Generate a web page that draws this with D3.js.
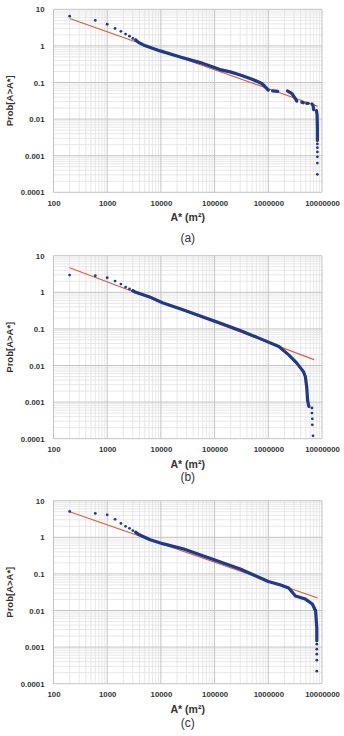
<!DOCTYPE html>
<html>
<head>
<meta charset="utf-8">
<script src="https://cdnjs.cloudflare.com/ajax/libs/d3/7.8.5/d3.min.js"></script>
<style>
	body { margin: 0; background: #fff; }
	svg { display: block; }
</style>
</head>
<body>
<div id="chart"></div>
<script>
// axis values
const xTicks = [100, 1000, 10000, 100000, 1000000, 10000000];
const yTicks = [0.0001, 0.001, 0.01, 0.1, 1, 10];
const yTickLabels = ['0.0001', '0.001', '0.01', '0.1', '1', '10'];
const xTitle = 'A* (m²)';
const yTitle = 'Prob[A>A*]';
const captions = ['(a)', '(b)', '(c)'];

// panel (a)
const aDots = [[200, 6.5], [600, 5.0], [1000, 3.9], [1400, 3.0], [1800, 2.5], [2200, 2.1], [2600, 1.84], [3000, 1.6], [3400, 1.45]];
const aCurve = [
	[[3400, 1.45], [3830, 1.25], [5000, 1.02], [9700, 0.73], [22900, 0.5], [53900, 0.35], [126000, 0.225], [195000, 0.195], [300000, 0.16], [459000, 0.129], [600000, 0.11], [755000, 0.094], [850000, 0.08], [1000000, 0.062]],
	[[1200000, 0.059], [1500000, 0.057]],
	[[2270000, 0.059], [2760000, 0.05], [3160000, 0.037], [3400000, 0.031]],
	[[4200000, 0.029], [4500000, 0.028]],
	[[5200000, 0.027], [5500000, 0.027]],
	[[6500000, 0.026], [6800000, 0.024], [7000000, 0.018]],
	[[7900000, 0.017], [8100000, 0.013], [8200000, 0.006], [8200000, 0.0026]]
];
const aTail = [[8200000, 0.0021], [8200000, 0.00166], [8200000, 0.00127], [8200000, 0.00093], [8200000, 0.00063], [8200000, 0.00031]];
const aTrend = [[200, 5.6], [8300000, 0.0225]];

// panel (b)
const bDots = [[200, 2.96], [600, 2.83], [1000, 2.5], [1400, 2.03], [1800, 1.68], [2200, 1.39], [2600, 1.23], [3000, 1.1]];
const bCurve = [
	[[3000, 1.1], [3400, 1.0], [6000, 0.76], [10700, 0.52], [25000, 0.34], [51000, 0.232], [115000, 0.152], [283000, 0.094], [670000, 0.056], [1570000, 0.033], [2400000, 0.0195], [3400000, 0.0116], [4500000, 0.0068], [4900000, 0.005], [5200000, 0.0025], [5400000, 0.0011], [5700000, 0.00076]]
];
const bTail = [[6500000, 0.00069], [6500000, 0.0005], [6600000, 0.00035], [6600000, 0.00024], [6800000, 0.00012]];
const bTrend = [[200, 4.7], [7100000, 0.0145]];

// panel (c)
const cDots = [[200, 5.1], [600, 4.5], [1000, 4.1], [1400, 3.1], [1800, 2.4], [2200, 2.0], [2600, 1.76], [3000, 1.53], [3400, 1.37]];
const cCurve = [
	[[3400, 1.37], [3870, 1.19], [6300, 0.86], [11200, 0.66], [26700, 0.48], [55000, 0.33], [125000, 0.215], [300000, 0.136], [575000, 0.089], [1000000, 0.062], [1700000, 0.05], [2400000, 0.041], [3200000, 0.025], [4900000, 0.0205], [6600000, 0.015], [7600000, 0.0098], [8000000, 0.0034], [8000000, 0.0015]]
];
const cTail = [[8000000, 0.0012], [8000000, 0.00088], [8000000, 0.00064], [8000000, 0.00044], [8000000, 0.00022]];
const cTrend = [[200, 5.0], [8300000, 0.022]];

window.onload = function() {

	const panels = [
		{ dots: aDots, curve: aCurve, tail: aTail, trend: aTrend },
		{ dots: bDots, curve: bCurve, tail: bTail, trend: bTrend },
		{ dots: cDots, curve: cCurve, tail: cTail, trend: cTrend }
	];

	const width = 344;
	const height = 736;
	const plotLeft = 53.5;
	const plotRight = 322;
	const plotHeight = 183;
	const plotTops = [9.3, 255.7, 500.7];
	const captionYs = [242, 481, 727];

	const blue = '#1f3a8c';
	const red = '#d9603b';
	const textColor = '#333';

	const svg = d3.select('#chart')
		.append('svg')
		.attr('width', width)
		.attr('height', height)

	const xScale = d3.scaleLog()
		.domain([100, 10000000])
		.range([plotLeft, plotRight])

	panels.forEach((panel, i) => {
		const top = plotTops[i];
		const bottom = top + plotHeight;

		const yScale = d3.scaleLog()
			.domain([0.0001, 10])
			.range([bottom, top])

		const g = svg.append('g').attr('id', 'panel-' + i);

		// minor grid (log ticks 2..9 per decade)
		const xMinor = xScale.ticks().filter(t => !xTicks.includes(t));
		const yMinor = yScale.ticks().filter(t => !yTicks.some(v => Math.abs(v - t) / v < 1e-6));

		g.selectAll('.xminor')
			.data(xMinor)
			.join('line')
			.attr('x1', d => xScale(d))
			.attr('x2', d => xScale(d))
			.attr('y1', top)
			.attr('y2', bottom)
			.attr('stroke', '#e2e2e2')
			.attr('stroke-width', 0.8)

		g.selectAll('.yminor')
			.data(yMinor)
			.join('line')
			.attr('x1', plotLeft)
			.attr('x2', plotRight)
			.attr('y1', d => yScale(d))
			.attr('y2', d => yScale(d))
			.attr('stroke', '#e2e2e2')
			.attr('stroke-width', 0.8)

		// major grid
		g.selectAll('.xmajor')
			.data(xTicks)
			.join('line')
			.attr('x1', d => xScale(d))
			.attr('x2', d => xScale(d))
			.attr('y1', top)
			.attr('y2', bottom)
			.attr('stroke', '#c4c4c4')
			.attr('stroke-width', 1)

		g.selectAll('.ymajor')
			.data(yTicks)
			.join('line')
			.attr('x1', plotLeft)
			.attr('x2', plotRight)
			.attr('y1', d => yScale(d))
			.attr('y2', d => yScale(d))
			.attr('stroke', '#c4c4c4')
			.attr('stroke-width', 1)

		// axes (labels only)
		const xAxis = d3.axisBottom(xScale)
			.tickValues(xTicks)
			.tickSize(0)
			.tickPadding(0)
			.tickFormat(d3.format('d'))

		const yAxis = d3.axisLeft(yScale)
			.tickValues(yTicks)
			.tickSize(0)
			.tickPadding(0)
			.tickFormat((d, k) => yTickLabels[k])

		const xAxisG = g.append('g')
			.attr('transform', `translate(0, ${bottom + 8})`)
			.call(xAxis)

		const yAxisG = g.append('g')
			.attr('transform', `translate(${plotLeft - 9}, 0)`)
			.call(yAxis)

		;[xAxisG, yAxisG].forEach(ax => {
			ax.select('.domain').remove();
			ax.selectAll('text')
				.attr('fill', textColor)
				.style('font-family', "'Liberation Sans Narrow', 'Liberation Sans', Arial, sans-serif")
				.style('font-weight', 'bold')
				.style('font-size', '7.8px')
		});

		// trend line
		g.append('path')
			.attr('d', d3.line().x(d => xScale(d[0])).y(d => yScale(d[1]))(panel.trend))
			.attr('fill', 'none')
			.attr('stroke', red)
			.attr('stroke-width', 1.2)

		// dense part of the data
		const line = d3.line()
			.x(d => xScale(d[0]))
			.y(d => yScale(d[1]))

		g.selectAll('.curve')
			.data(panel.curve)
			.join('path')
			.attr('d', d => line(d))
			.attr('fill', 'none')
			.attr('stroke', blue)
			.attr('stroke-width', 3.2)
			.attr('stroke-linecap', 'round')
			.attr('stroke-linejoin', 'round')

		// single points
		g.selectAll('.dot')
			.data(panel.dots.concat(panel.tail))
			.join('circle')
			.attr('cx', d => xScale(d[0]))
			.attr('cy', d => yScale(d[1]))
			.attr('r', 1.4)
			.attr('fill', blue)

		// titles
		g.append('text')
			.attr('x', (plotLeft + plotRight) / 2)
			.attr('y', bottom + 29)
			.attr('text-anchor', 'middle')
			.attr('fill', textColor)
			.style('font-family', "'Liberation Sans', Arial, sans-serif")
			.style('font-weight', 'bold')
			.style('font-size', '10.5px')
			.text(xTitle)

		g.append('text')
			.attr('transform', `translate(12.5, ${(top + bottom) / 2}) rotate(-90)`)
			.attr('text-anchor', 'middle')
			.attr('fill', textColor)
			.style('font-family', "'Liberation Sans', Arial, sans-serif")
			.style('font-weight', 'bold')
			.style('font-size', '9.5px')
			.text(yTitle)

		g.append('text')
			.attr('x', (plotLeft + plotRight) / 2)
			.attr('y', captionYs[i])
			.attr('text-anchor', 'middle')
			.attr('fill', textColor)
			.style('font-family', "'Liberation Sans', Arial, sans-serif")
			.style('font-size', '12px')
			.text(captions[i])
	});
}
</script>
</body>
</html>
